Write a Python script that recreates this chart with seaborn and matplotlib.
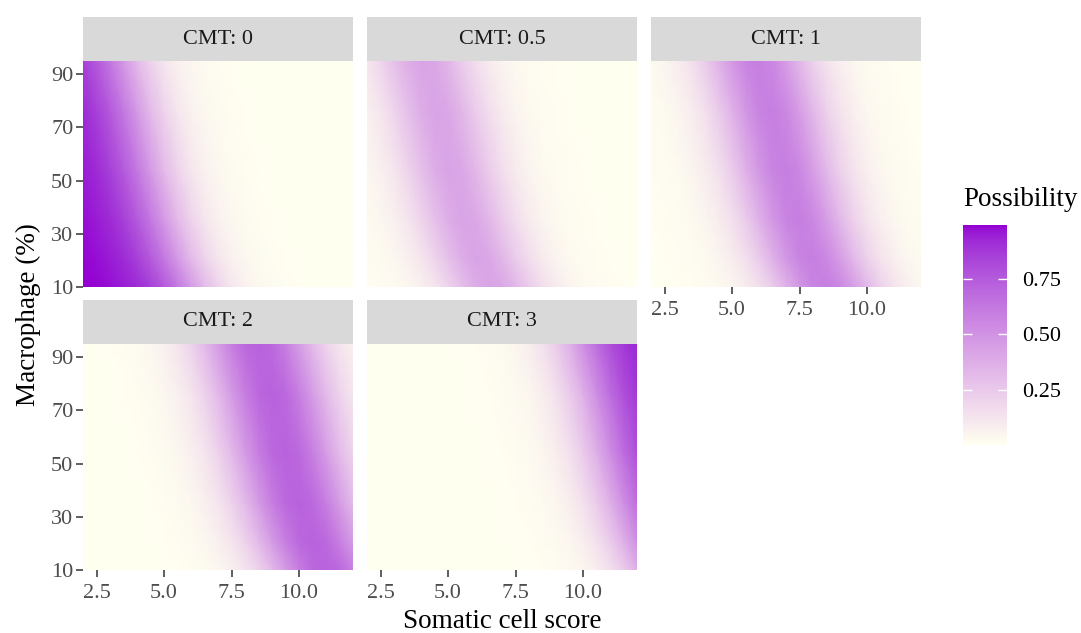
import numpy as np
import pandas as pd
import matplotlib
matplotlib.use("Agg")
import matplotlib.pyplot as plt
from matplotlib.colors import ListedColormap, Normalize
from matplotlib.patches import Rectangle
import seaborn as sns

# ---------------- data ----------------
CMT_LEVELS = ["0", "0.5", "1", "2", "3"]
SCS = [2.0, 2.5, 3.0, 3.5, 4.0, 4.5, 5.0, 5.5, 6.0, 6.5, 7.0,
       7.5, 8.0, 8.5, 9.0, 9.5, 10.0, 10.5, 11.0, 11.5, 12.0]
MACROPHAGE = [10, 20.7, 35.3, 53.7, 76.0, 95]

PROB_CMT_0 = [
    [.992, .986, .974, .953, .915, .852, .755, .623, .469, .321, .202, .119, .068, .037, .020, .011, .006, .003, .002, .001, .001],
    [.986, .974, .953, .915, .852, .755, .623, .469, .321, .202, .119, .068, .037, .020, .011, .006, .003, .002, .001, .001, .000],
    [.974, .953, .915, .852, .755, .623, .469, .321, .202, .119, .068, .037, .020, .011, .006, .003, .002, .001, .001, .000, .000],
    [.953, .915, .852, .755, .623, .469, .321, .202, .119, .068, .037, .020, .011, .006, .003, .002, .001, .001, .000, .000, .000],
    [.915, .852, .755, .623, .469, .321, .202, .119, .068, .037, .020, .011, .006, .003, .002, .001, .001, .000, .000, .000, .000],
    [.852, .755, .623, .469, .321, .202, .119, .068, .037, .020, .011, .006, .003, .002, .001, .001, .000, .000, .000, .000, .000],
]
PROB_CMT_05 = [
    [.006, .012, .022, .039, .070, .120, .195, .287, .375, .422, .406, .334, .240, .155, .093, .053, .029, .016, .009, .005, .003],
    [.012, .022, .039, .070, .120, .195, .287, .375, .422, .406, .334, .240, .155, .093, .053, .029, .016, .009, .005, .003, .001],
    [.022, .039, .070, .120, .195, .287, .375, .422, .406, .334, .240, .155, .093, .053, .029, .016, .009, .005, .003, .001, .001],
    [.039, .070, .120, .195, .287, .375, .422, .406, .334, .240, .155, .093, .053, .029, .016, .009, .005, .003, .001, .001, .000],
    [.070, .120, .195, .287, .375, .422, .406, .334, .240, .155, .093, .053, .029, .016, .009, .005, .003, .001, .001, .000, .000],
    [.120, .195, .287, .375, .422, .406, .334, .240, .155, .093, .053, .029, .016, .009, .005, .003, .001, .001, .000, .000, .000],
]
PROB_CMT_1 = [
    [.001, .002, .004, .008, .014, .026, .047, .084, .144, .235, .353, .475, .567, .596, .553, .452, .328, .215, .130, .075, .042],
    [.002, .004, .008, .014, .026, .047, .084, .144, .235, .353, .475, .567, .596, .553, .452, .328, .215, .130, .075, .042, .023],
    [.004, .008, .014, .026, .047, .084, .144, .235, .353, .475, .567, .596, .553, .452, .328, .215, .130, .075, .042, .023, .012],
    [.008, .014, .026, .047, .084, .144, .235, .353, .475, .567, .596, .553, .452, .328, .215, .130, .075, .042, .023, .012, .007],
    [.014, .026, .047, .084, .144, .235, .353, .475, .567, .596, .553, .452, .328, .215, .130, .075, .042, .023, .012, .007, .004],
    [.026, .047, .084, .144, .235, .353, .475, .567, .596, .553, .452, .328, .215, .130, .075, .042, .023, .012, .007, .004, .002],
]
PROB_CMT_2 = [
    [.000, .000, .000, .001, .001, .002, .003, .006, .011, .021, .039, .070, .122, .205, .321, .460, .592, .686, .719, .686, .592],
    [.000, .000, .001, .001, .002, .003, .006, .011, .021, .039, .070, .122, .205, .321, .460, .592, .686, .719, .686, .592, .460],
    [.000, .001, .001, .002, .003, .006, .011, .021, .039, .070, .122, .205, .321, .460, .592, .686, .719, .686, .592, .460, .321],
    [.001, .001, .002, .003, .006, .011, .021, .039, .070, .122, .205, .321, .460, .592, .686, .719, .686, .592, .460, .321, .205],
    [.001, .002, .003, .006, .011, .021, .039, .070, .122, .205, .321, .460, .592, .686, .719, .686, .592, .460, .321, .205, .122],
    [.002, .003, .006, .011, .021, .039, .070, .122, .205, .321, .460, .592, .686, .719, .686, .592, .460, .321, .205, .122, .070],
]
PROB_CMT_3 = [
    [.000, .000, .000, .000, .000, .000, .000, .000, .000, .001, .001, .002, .004, .007, .013, .024, .045, .080, .140, .234, .363],
    [.000, .000, .000, .000, .000, .000, .000, .000, .001, .001, .002, .004, .007, .013, .024, .045, .080, .140, .234, .363, .516],
    [.000, .000, .000, .000, .000, .000, .000, .001, .001, .002, .004, .007, .013, .024, .045, .080, .140, .234, .363, .516, .665],
    [.000, .000, .000, .000, .000, .000, .001, .001, .002, .004, .007, .013, .024, .045, .080, .140, .234, .363, .516, .665, .788],
    [.000, .000, .000, .000, .000, .001, .001, .002, .004, .007, .013, .024, .045, .080, .140, .234, .363, .516, .665, .788, .874],
    [.000, .000, .000, .000, .001, .001, .002, .004, .007, .013, .024, .045, .080, .140, .234, .363, .516, .665, .788, .874, .928],
]
X_TICKS = [2.5, 5.0, 7.5, 10.0]
X_TICK_LABELS = ["2.5", "5.0", "7.5", "10.0"]
Y_TICKS = [10, 30, 50, 70, 90]
LEGEND_TICKS = [0.25, 0.50, 0.75]
LEGEND_TICK_LABELS = ["0.25", "0.50", "0.75"]

TABLES = dict(zip(CMT_LEVELS, [PROB_CMT_0, PROB_CMT_05, PROB_CMT_1, PROB_CMT_2, PROB_CMT_3]))
rows = []
for lev, tab in TABLES.items():
    for j, m in enumerate(MACROPHAGE):
        for i, s in enumerate(SCS):
            rows.append((lev, s, m, tab[j][i]))
df = pd.DataFrame(rows, columns=["cmt", "scs", "mac", "prob"])

# ---------------- colour scale: ivory -> darkviolet, interpolated in CIELAB ----------------
M = np.array([[0.4124564, 0.3575761, 0.1804375],
              [0.2126729, 0.7151522, 0.0721750],
              [0.0193339, 0.1191920, 0.9503041]])
WHITE = np.array([0.95047, 1.0, 1.08883])
D = 6 / 29


def to_lab(rgb):
    c = np.asarray(rgb, float)
    lin = np.where(c <= 0.04045, c / 12.92, ((c + 0.055) / 1.055) ** 2.4)
    xyz = M @ lin / WHITE
    f = np.where(xyz > D ** 3, np.cbrt(xyz), xyz / (3 * D ** 2) + 4 / 29)
    return np.array([116 * f[1] - 16, 500 * (f[0] - f[1]), 200 * (f[1] - f[2])])


def to_rgb(lab):
    fy = (lab[0] + 16) / 116
    fx = fy + lab[1] / 500
    fz = fy - lab[2] / 200
    f = np.array([fx, fy, fz])
    xyz = np.where(f > D, f ** 3, 3 * D ** 2 * (f - 4 / 29)) * WHITE
    lin = np.linalg.solve(M, xyz)
    c = np.where(lin <= 0.0031308, 12.92 * lin, 1.055 * np.clip(lin, 0, None) ** (1 / 2.4) - 0.055)
    return np.clip(c, 0, 1)


lo = to_lab(np.array([255, 255, 240]) / 255)   # ivory
hi = to_lab(np.array([148, 0, 211]) / 255)     # darkviolet
cmap = ListedColormap([to_rgb(lo + (hi - lo) * t) for t in np.linspace(0, 1, 256)])
norm = Normalize(vmin=df["prob"].min(), vmax=df["prob"].max())

# ---------------- figure ----------------
sns.set_theme(style="white")
plt.rcParams["font.family"] = ["Liberation Serif", "DejaVu Serif"]

W, H = 1081, 633
g = sns.FacetGrid(df, col="cmt", col_wrap=3, col_order=CMT_LEVELS,
                  sharex=True, sharey=True, height=2.5, aspect=1.2)
meshes = []


def draw(data, **kws):
    ax = plt.gca()
    pv = data.pivot(index="mac", columns="scs", values="prob")
    m = ax.pcolormesh(pv.columns.values, pv.index.values, pv.values,
                      shading="gouraud", cmap=cmap, norm=norm, rasterized=True)
    meshes.append(m)


g.map_dataframe(draw)
g.set_titles("")
g.set_axis_labels("", "")
fig = g.figure
fig.set_size_inches(W / 100, H / 100)
fig.set_dpi(100)

lefts = [83, 367, 651]
pw = 270
row_plot = [(61, 287), (344, 570)]
strip_h = 44
TICK_COL = "#333333"
LAB_COL = "#4D4D4D"

for k, ax in enumerate(g.axes.flat):
    r, c = divmod(k, 3)
    top, bot = row_plot[r]
    ax.set_position([lefts[c] / W, 1 - bot / H, pw / W, (bot - top) / H])
    ax.set_xlim(2, 12)
    ax.set_ylim(10, 95)
    for sp in ax.spines.values():
        sp.set_visible(False)
    ax.set_xticks(X_TICKS)
    ax.set_xticklabels(X_TICK_LABELS)
    ax.set_yticks(Y_TICKS)
    ax.set_yticklabels([str(v) for v in Y_TICKS])
    show_x = (r == 1) or (c == 2)
    show_y = (c == 0)
    ax.tick_params(axis="x", bottom=show_x, labelbottom=show_x, length=5, width=1.1,
                   color=TICK_COL, labelsize=16, labelcolor=LAB_COL, pad=5)
    ax.tick_params(axis="y", left=show_y, labelleft=show_y, length=5, width=1.1,
                   color=TICK_COL, labelsize=16, labelcolor=LAB_COL, pad=2)
    ax.set_xlabel("")
    ax.set_ylabel("")
    ax.grid(False)
    # strip
    fig.add_artist(Rectangle((lefts[c] / W, 1 - top / H), pw / W, strip_h / H,
                             transform=fig.transFigure, facecolor="#D9D9D9",
                             edgecolor="none"))
    fig.text((lefts[c] + pw / 2) / W, 1 - (top - strip_h / 2) / H,
             f"CMT: {CMT_LEVELS[k]}", ha="center", va="center",
             fontsize=16, color="#1A1A1A")

fig.text(502 / W, 1 - 622 / H, "Somatic cell score", ha="center", va="center",
         fontsize=19.5, color="black")
fig.text(28 / W, 1 - 315 / H, "Macrophage (%)", ha="center", va="center",
         rotation=90, fontsize=19.5, color="black")

# legend colourbar
cax = fig.add_axes([963 / W, 1 - 445 / H, 44 / W, 220 / H])
cb = fig.colorbar(meshes[0], cax=cax)
cb.outline.set_visible(False)
cb.set_ticks(LEGEND_TICKS)
cb.set_ticklabels(LEGEND_TICK_LABELS)
cax.tick_params(length=0, labelsize=16, labelcolor="black", pad=11)
for t in LEGEND_TICKS:
    cax.hlines(t, 0, 0.2, color="white", lw=1, transform=cax.get_yaxis_transform())
    cax.hlines(t, 0.8, 1, color="white", lw=1, transform=cax.get_yaxis_transform())
fig.text(963 / W, 1 - 200 / H, "Possibility", ha="left", va="center",
         fontsize=19.5, color="black")

fig.savefig("out.png", dpi=100)
